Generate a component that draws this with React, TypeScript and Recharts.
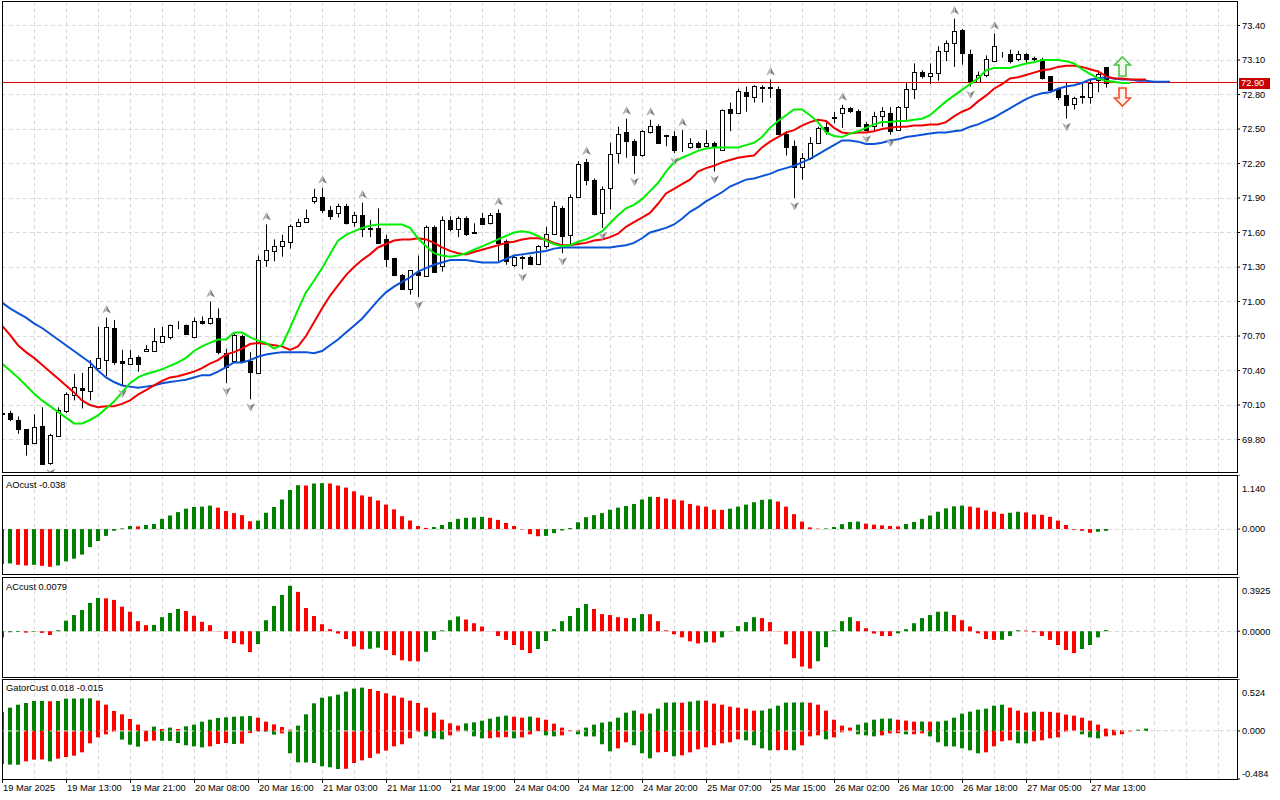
import React from "react";
import {
  ComposedChart,
  Bar,
  Line,
  Scatter,
  XAxis,
  YAxis,
  CartesianGrid,
  ReferenceLine,
  Cell,
} from "recharts";

const FONT = "'Liberation Sans', Arial, sans-serif";
const FS = 9.3;
const GREEN = "#008000";
const RED = "#ff0000";
const GRID = "#d9d9d9";

// hourly bars, one label every 8 bars
const timeLabels = [
  "19 Mar 2025", "19 Mar 13:00", "19 Mar 21:00", "20 Mar 08:00", "20 Mar 16:00",
  "21 Mar 03:00", "21 Mar 11:00", "21 Mar 19:00", "24 Mar 04:00", "24 Mar 12:00",
  "24 Mar 20:00", "25 Mar 07:00", "25 Mar 15:00", "26 Mar 02:00", "26 Mar 10:00",
  "26 Mar 18:00", "27 Mar 05:00", "27 Mar 13:00",
];

const priceTicks = [69.8, 70.1, 70.4, 70.7, 71.0, 71.3, 71.6, 71.9, 72.2, 72.5, 72.8, 73.1, 73.4];
const lastPrice = 72.904;

const opens = [
  70.03, 70.03, 69.97, 69.89, 69.77, 69.92, 69.60, 69.83, 70.05, 70.19,
  70.25, 70.22, 70.42, 70.49, 70.77, 70.48, 70.46, 70.52, 70.57, 70.57,
  70.65, 70.69, 70.797, 70.80, 70.69, 70.83, 70.81, 70.86, 70.55, 70.48,
  70.70, 70.48, 70.38, 71.36, 71.44, 71.48, 71.52, 71.66, 71.69, 71.87,
  71.91, 71.80, 71.77, 71.83, 71.69, 71.75, 71.642, 71.64, 71.54, 71.38,
  71.23, 71.11, 71.26, 71.22, 71.65, 71.31, 71.71, 71.63, 71.73, 71.607,
  71.73, 71.68, 71.77, 71.53, 71.32, 71.39, 71.39, 71.33, 71.48, 71.59,
  71.81, 71.58, 71.91, 72.21, 72.06, 71.77, 71.99, 72.29, 72.47, 72.40,
  72.27, 72.47, 72.53, 72.445, 72.44, 72.33, 72.34, 72.38, 72.35, 72.38,
  72.32, 72.67, 72.64, 72.82, 72.78, 72.868, 72.865, 72.85, 72.46, 72.35,
  72.17, 72.25, 72.38, 72.52, 72.596, 72.64, 72.68, 72.66, 72.54, 72.53,
  72.61, 72.64, 72.49, 72.69, 72.85, 73.00, 72.96, 72.99, 73.18, 73.25,
  73.36, 73.15, 72.91, 72.97, 73.09, 73.147, 73.15, 73.11, 73.15, 73.119,
  73.11, 72.96, 72.85, 72.80, 72.72, 72.784, 72.78, 72.93, 73.04,
];
const highs = [
  70.04, 70.05, 70.00, 69.89, 70.02, 70.08, 69.85, 70.08, 70.21, 70.37,
  70.38, 70.49, 70.78, 70.86, 70.84, 70.58, 70.58, 70.53, 70.62, 70.77,
  70.78, 70.80, 70.83, 70.80, 70.86, 70.87, 71.00, 70.94, 70.59, 70.72,
  70.71, 70.56, 71.40, 71.67, 71.54, 71.58, 71.67, 71.72, 71.80, 71.98,
  71.99, 71.83, 71.85, 71.85, 71.78, 71.86, 71.71, 71.81, 71.58, 71.38,
  71.24, 71.27, 71.40, 71.66, 71.66, 71.74, 71.74, 71.74, 71.74, 71.68,
  71.77, 71.77, 71.80, 71.54, 71.40, 71.40, 71.40, 71.49, 71.65, 71.87,
  71.83, 71.93, 72.22, 72.24, 72.07, 72.00, 72.38, 72.52, 72.59, 72.41,
  72.49, 72.58, 72.54, 72.45, 72.48, 72.49, 72.42, 72.39, 72.49, 72.39,
  72.67, 72.73, 72.85, 72.87, 72.88, 72.88, 72.93, 72.87, 72.48, 72.40,
  72.29, 72.43, 72.52, 72.56, 72.65, 72.71, 72.69, 72.67, 72.56, 72.65,
  72.69, 72.69, 72.70, 72.90, 73.07, 73.01, 73.07, 73.22, 73.27, 73.46,
  73.37, 73.19, 73.00, 73.14, 73.33, 73.17, 73.19, 73.18, 73.16, 73.13,
  73.12, 72.96, 72.85, 72.90, 72.78, 72.90, 72.93, 73.01, 73.04,
];
const lows = [
  70.01, 69.96, 69.85, 69.66, 69.76, 69.59, 69.58, 69.83, 70.03, 70.14,
  70.07, 70.14, 70.41, 70.35, 70.45, 70.27, 70.45, 70.39, 70.56, 70.56,
  70.64, 70.67, 70.76, 70.71, 70.68, 70.80, 70.80, 70.54, 70.29, 70.48,
  70.47, 70.15, 70.38, 71.30, 71.35, 71.39, 71.46, 71.65, 71.69, 71.85,
  71.77, 71.71, 71.73, 71.67, 71.65, 71.56, 71.56, 71.51, 71.30, 71.22,
  71.10, 71.06, 71.04, 71.22, 71.25, 71.26, 71.61, 71.56, 71.57, 71.59,
  71.67, 71.67, 71.35, 71.32, 71.30, 71.28, 71.33, 71.33, 71.46, 71.58,
  71.42, 71.48, 71.90, 72.01, 71.75, 71.64, 71.80, 72.20, 72.25, 72.11,
  72.26, 72.46, 72.38, 72.35, 72.29, 72.30, 72.33, 72.33, 72.34, 72.13,
  72.32, 72.48, 72.64, 72.65, 72.73, 72.73, 72.77, 72.45, 72.27, 71.90,
  72.06, 72.23, 72.38, 72.45, 72.55, 72.51, 72.64, 72.52, 72.48, 72.49,
  72.52, 72.45, 72.49, 72.58, 72.76, 72.94, 72.89, 72.92, 73.09, 73.04,
  73.06, 72.87, 72.90, 72.95, 73.08, 73.12, 73.07, 73.09, 73.07, 73.09,
  72.93, 72.83, 72.75, 72.59, 72.67, 72.72, 72.72, 72.82, 72.86,
];
const closes = [
  70.02, 69.98, 69.89, 69.76, 69.91, 69.59, 69.84, 70.06, 70.20, 70.26,
  70.23, 70.43, 70.51, 70.78, 70.47, 70.468, 70.51, 70.46, 70.59, 70.66,
  70.70, 70.80, 70.80, 70.72, 70.83, 70.81, 70.86, 70.56, 70.43, 70.71,
  70.48, 70.39, 71.36, 71.45, 71.48, 71.53, 71.66, 71.69, 71.73, 71.91,
  71.80, 71.74, 71.83, 71.68, 71.75, 71.63, 71.63, 71.51, 71.37, 71.23,
  71.11, 71.27, 71.23, 71.65, 71.26, 71.71, 71.63, 71.73, 71.59, 71.598,
  71.67, 71.75, 71.51, 71.35, 71.39, 71.378, 71.33, 71.48, 71.59, 71.83,
  71.57, 71.91, 72.20, 72.06, 71.76, 71.98, 72.28, 72.46, 72.40, 72.27,
  72.48, 72.53, 72.38, 72.436, 72.32, 72.325, 72.38, 72.34, 72.38, 72.34,
  72.665, 72.64, 72.83, 72.79, 72.87, 72.857, 72.857, 72.46, 72.34, 72.17,
  72.25, 72.38, 72.51, 72.48, 72.602, 72.68, 72.66, 72.53, 72.49, 72.61,
  72.66, 72.48, 72.69, 72.85, 73.00, 72.96, 72.99, 73.18, 73.25, 73.35,
  73.16, 72.91, 72.97, 73.11, 73.22, 73.141, 73.09, 73.15, 73.11, 73.109,
  72.94, 72.84, 72.78, 72.71, 72.77, 72.778, 72.90, 72.98, 72.90,
];

// Alligator lines (already shifted forward 8 / 5 / 3 bars)
const jaw = [
  70.99, 70.94, 70.90, 70.86, 70.81, 70.77, 70.72, 70.67, 70.62, 70.57,
  70.52, 70.47, 70.40, 70.34, 70.30, 70.27, 70.26, 70.25, 70.26, 70.27,
  70.29, 70.30, 70.31, 70.32, 70.34, 70.36, 70.36, 70.39, 70.43, 70.47,
  70.47, 70.49, 70.52, 70.54, 70.55, 70.56, 70.56, 70.56, 70.56, 70.55,
  70.57, 70.62, 70.67, 70.73, 70.79, 70.85, 70.93, 71.01, 71.08, 71.13,
  71.17, 71.21, 71.26, 71.29, 71.32, 71.34, 71.36, 71.36, 71.36, 71.35,
  71.34, 71.34, 71.34, 71.37, 71.40, 71.41, 71.42, 71.43, 71.44, 71.46,
  71.47, 71.47, 71.47, 71.47, 71.47, 71.47, 71.47, 71.48, 71.49, 71.51,
  71.55, 71.60, 71.62, 71.64, 71.67, 71.72, 71.78, 71.82, 71.87, 71.91,
  71.95, 72.00, 72.03, 72.06, 72.07, 72.09, 72.11, 72.14, 72.16, 72.18,
  72.21, 72.24, 72.28, 72.32, 72.36, 72.40, 72.40, 72.39, 72.37, 72.37,
  72.38, 72.40, 72.41, 72.43, 72.44, 72.45, 72.46, 72.47, 72.47, 72.48,
  72.49, 72.52, 72.54, 72.57, 72.60, 72.64, 72.68, 72.72, 72.76, 72.79,
  72.81, 72.82, 72.85, 72.87, 72.88, 72.90, 72.93, 72.94, 72.95, 72.94,
  72.93, 72.93, 72.92, 72.92, 72.91, 72.91, 72.91,
];
const teeth = [
  70.79, 70.71, 70.62, 70.56, 70.51, 70.45, 70.39, 70.33, 70.27, 70.21,
  70.14, 70.10, 70.08, 70.09, 70.09, 70.11, 70.14, 70.19, 70.23, 70.27,
  70.31, 70.34, 70.35, 70.37, 70.39, 70.42, 70.46, 70.49, 70.54, 70.56,
  70.59, 70.63, 70.64, 70.63, 70.62, 70.61, 70.58, 70.61, 70.70, 70.82,
  70.94, 71.05, 71.14, 71.23, 71.30, 71.36, 71.41, 71.47, 71.50, 71.53,
  71.54, 71.54, 71.55, 71.54, 71.51, 71.47, 71.44, 71.42, 71.41, 71.43,
  71.45, 71.47, 71.49, 71.51, 71.52, 71.54, 71.55, 71.55, 71.54, 71.51,
  71.49, 71.49, 71.50, 71.51, 71.53, 71.54, 71.56, 71.59, 71.65, 71.69,
  71.73, 71.77, 71.85, 71.94, 71.98, 72.02, 72.06, 72.13, 72.16, 72.18,
  72.21, 72.23, 72.25, 72.26, 72.27, 72.34, 72.39, 72.43, 72.47, 72.49,
  72.53, 72.56, 72.58, 72.57, 72.51, 72.47, 72.46, 72.47, 72.47, 72.48,
  72.50, 72.51, 72.52, 72.52, 72.53, 72.53, 72.54, 72.54, 72.56, 72.61,
  72.65, 72.68, 72.74, 72.79, 72.85, 72.89, 72.94, 72.95, 72.97, 72.99,
  73.01, 73.02, 73.04, 73.05, 73.05, 73.04, 73.02, 73.00, 72.96, 72.94,
  72.94, 72.93, 72.93, 72.93,
];
const lips = [
  70.46, 70.40, 70.34, 70.27, 70.20, 70.14, 70.09, 70.04, 69.99, 69.94,
  69.94, 69.97, 70.01, 70.07, 70.13, 70.21, 70.29, 70.34, 70.37, 70.39,
  70.41, 70.44, 70.47, 70.51, 70.57, 70.61, 70.64, 70.67, 70.67, 70.73,
  70.73, 70.69, 70.66, 70.64, 70.59, 70.62, 70.77, 70.93, 71.08, 71.18,
  71.29, 71.41, 71.53, 71.58, 71.61, 71.64, 71.66, 71.67, 71.67, 71.67,
  71.67, 71.64, 71.55, 71.48, 71.42, 71.40, 71.39, 71.40, 71.42, 71.45,
  71.48, 71.51, 71.54, 71.57, 71.60, 71.61, 71.60, 71.57, 71.53, 71.50,
  71.48, 71.49, 71.52, 71.54, 71.57, 71.61, 71.68, 71.75, 71.81, 71.84,
  71.89, 71.96, 72.03, 72.13, 72.21, 72.25, 72.28, 72.31, 72.33, 72.34,
  72.34, 72.34, 72.34, 72.36, 72.38, 72.43, 72.51, 72.57, 72.62, 72.67,
  72.67, 72.62, 72.56, 72.47, 72.44, 72.43, 72.46, 72.48, 72.51, 72.54,
  72.56, 72.56, 72.57, 72.57, 72.58, 72.59, 72.62, 72.68, 72.74, 72.79,
  72.84, 72.89, 72.94, 73.01, 73.03, 73.03, 73.03, 73.05, 73.07, 73.08,
  73.10, 73.10, 73.10, 73.09, 73.07, 73.02, 72.98, 72.94, 72.92, 72.91,
  72.90, 72.90,
];

const fractalUp = [13, 26, 33, 40, 45, 62, 73, 78, 81, 85, 96, 105, 119, 124];
const fractalDown = [6, 15, 28, 31, 52, 65, 70, 75, 79, 84, 89, 99, 108, 111, 121, 133];
const signalUp = [{ i: 140, v: 73.05 }];
const signalDown = [{ i: 140, v: 72.79 }];

const ao = [
  -0.738, -0.724, -0.753, -0.767, -0.753, -0.774, -0.796, -0.767, -0.681, -0.624,
  -0.538, -0.380, -0.251, -0.143, -0.036, 0.014, 0.065, 0.057, 0.086, 0.108,
  0.215, 0.287, 0.358, 0.430, 0.466, 0.473, 0.495, 0.452, 0.380, 0.337,
  0.294, 0.165, 0.179, 0.344, 0.466, 0.624, 0.824, 0.925, 0.918, 0.961,
  0.968, 0.961, 0.918, 0.875, 0.796, 0.710, 0.681, 0.602, 0.516, 0.416,
  0.272, 0.179, 0.065, 0.025, 0.043, 0.086, 0.151, 0.215, 0.237, 0.244,
  0.258, 0.237, 0.194, 0.129, 0.065, -0.007, -0.108, -0.151, -0.143, -0.086,
  -0.029, 0.022, 0.143, 0.251, 0.294, 0.337, 0.409, 0.452, 0.487, 0.530,
  0.624, 0.681, 0.677, 0.645, 0.624, 0.602, 0.530, 0.495, 0.473, 0.409,
  0.405, 0.430, 0.473, 0.516, 0.566, 0.616, 0.626, 0.581, 0.473, 0.315,
  0.158, 0.036, 0.010, 0.014, 0.043, 0.104, 0.151, 0.158, 0.115, 0.093,
  0.079, 0.065, 0.057, 0.108, 0.151, 0.215, 0.287, 0.366, 0.437, 0.480,
  0.495, 0.473, 0.452, 0.394, 0.366, 0.323, 0.344, 0.366, 0.351, 0.308,
  0.301, 0.258, 0.179, 0.086, -0.014, -0.036, -0.079, -0.057, -0.038,
];
const ac = [
  -0.046, -0.007, -0.005, -0.010, -0.004, -0.012, -0.027, 0.007, 0.076, 0.117,
  0.154, 0.205, 0.241, 0.238, 0.227, 0.178, 0.141, 0.073, 0.044, 0.046,
  0.102, 0.132, 0.161, 0.146, 0.112, 0.068, 0.044, -0.002, -0.056, -0.085,
  -0.095, -0.151, -0.093, 0.080, 0.183, 0.263, 0.329, 0.285, 0.168, 0.110,
  0.051, 0.015, -0.017, -0.056, -0.110, -0.131, -0.127, -0.119, -0.136, -0.173,
  -0.210, -0.217, -0.218, -0.149, -0.063, 0.007, 0.080, 0.107, 0.085, 0.058,
  0.034, -0.001, -0.034, -0.063, -0.100, -0.136, -0.158, -0.129, -0.071, 0.015,
  0.073, 0.110, 0.168, 0.197, 0.161, 0.124, 0.117, 0.102, 0.095, 0.096,
  0.124, 0.123, 0.073, 0.007, -0.022, -0.044, -0.073, -0.088, -0.080, -0.081,
  -0.044, 0.002, 0.037, 0.066, 0.102, 0.095, 0.066, -0.002, -0.095, -0.195,
  -0.256, -0.270, -0.217, -0.115, 0.007, 0.073, 0.102, 0.073, 0.022, -0.017,
  -0.034, -0.035, -0.015, 0.015, 0.058, 0.095, 0.117, 0.141, 0.142, 0.117,
  0.080, 0.034, -0.015, -0.056, -0.063, -0.062, -0.034, 0.007, 0.005, -0.007,
  -0.034, -0.063, -0.100, -0.136, -0.158, -0.129, -0.100, -0.044, 0.0079,
];
const gatorUp = [
  0.192, 0.235, 0.265, 0.282, 0.302, 0.303, 0.300, 0.302, 0.326, 0.327,
  0.328, 0.329, 0.306, 0.265, 0.202, 0.168, 0.121, 0.064, 0.003, 0.044,
  0.020, 0.034, 0.020, 0.047, 0.064, 0.094, 0.114, 0.131, 0.138, 0.144,
  0.148, 0.150, 0.134, 0.094, 0.067, 0.040, 0.013, 0.054, 0.168, 0.279,
  0.336, 0.349, 0.366, 0.397, 0.427, 0.437, 0.423, 0.403, 0.380, 0.356,
  0.336, 0.306, 0.282, 0.235, 0.185, 0.114, 0.077, 0.054, 0.077, 0.087,
  0.104, 0.124, 0.144, 0.155, 0.144, 0.134, 0.145, 0.134, 0.114, 0.074,
  0.034, 0.010, 0.009, 0.034, 0.064, 0.084, 0.094, 0.134, 0.185, 0.205,
  0.175, 0.176, 0.225, 0.286, 0.287, 0.285, 0.296, 0.306, 0.305, 0.276,
  0.265, 0.245, 0.235, 0.225, 0.205, 0.206, 0.225, 0.255, 0.286, 0.287,
  0.288, 0.285, 0.265, 0.205, 0.114, 0.054, 0.034, 0.064, 0.084, 0.114,
  0.124, 0.125, 0.114, 0.104, 0.094, 0.095, 0.094, 0.095, 0.104, 0.134,
  0.175, 0.195, 0.215, 0.225, 0.255, 0.265, 0.235, 0.205, 0.185, 0.195,
  0.194, 0.193, 0.185, 0.165, 0.155, 0.134, 0.104, 0.064, 0.024, 0.012,
  0.008, 0.005, 0.013, 0.024,
];
const gatorDown = [
  -0.333, -0.339, -0.340, -0.306, -0.289, -0.287, -0.306, -0.279, -0.262, -0.249,
  -0.215, -0.124, -0.064, -0.034, -0.007, -0.087, -0.138, -0.158, -0.104, -0.097,
  -0.099, -0.100, -0.121, -0.144, -0.155, -0.165, -0.155, -0.131, -0.121, -0.131,
  -0.128, -0.020, -0.005, -0.007, -0.037, -0.024, -0.225, -0.316, -0.317, -0.323,
  -0.356, -0.366, -0.383, -0.381, -0.323, -0.296, -0.272, -0.228, -0.198, -0.155,
  -0.134, -0.074, -0.007, -0.054, -0.074, -0.084, -0.044, -0.007, -0.003, -0.054,
  -0.074, -0.073, -0.064, -0.063, -0.074, -0.064, -0.034, -0.002, -0.044, -0.054,
  -0.044, -0.003, -0.034, -0.054, -0.055, -0.134, -0.205, -0.175, -0.114, -0.144,
  -0.225, -0.276, -0.215, -0.212, -0.255, -0.245, -0.215, -0.185, -0.165, -0.144,
  -0.124, -0.114, -0.084, -0.094, -0.144, -0.175, -0.195, -0.194, -0.192, -0.195,
  -0.144, -0.054, -0.044, -0.084, -0.064, -0.013, -0.003, -0.034, -0.044, -0.054,
  -0.044, -0.024, -0.023, -0.034, -0.033, -0.024, -0.054, -0.114, -0.155, -0.156,
  -0.175, -0.195, -0.225, -0.215, -0.155, -0.104, -0.094, -0.124, -0.125, -0.104,
  -0.094, -0.074, -0.064, -0.007, -0.001, -0.034, -0.064, -0.074, -0.054, -0.044,
  -0.033, -0.007,
];

// ---- layout ----
const W = 1280;
const AXIS_W = 43;
const MARGIN = { top: 0, right: 0, bottom: 0, left: 2 };
const X_DOMAIN = [0, 154.375]; // 8 px per bar
const gridTicks = Array.from({ length: 39 }, (_, k) => k * 4);
const AO_DOMAIN = [-0.968, 1.14];
const AC_DOMAIN = [-0.3384, 0.3925];
const GATOR_DOMAIN = [-0.484, 0.524];

const mainData = jaw.map((_, i) => ({
  i,
  o: opens[i],
  h: highs[i],
  l: lows[i],
  c: closes[i],
  jaw: jaw[i],
  teeth: teeth[i],
  lips: lips[i],
}));
const upPoints = fractalUp.map((i) => ({ i, v: highs[i] }));
const downPoints = fractalDown.map((i) => ({ i, v: lows[i] }));

const aoData = ao.map((v, i) => ({ i, v, rising: i > 0 && v > ao[i - 1] }));
const acData = ac.map((v, i) => ({ i, v, rising: i === 0 || v > ac[i - 1] }));
const gatorData = gatorUp.map((u, i) => ({
  i,
  up: u,
  dn: gatorDown[i],
  upGrow: i === 0 || u > gatorUp[i - 1],
  dnGrow: i === 0 || Math.abs(gatorDown[i] ?? 0) > Math.abs(gatorDown[i - 1] ?? 0),
}));

function Candle(props: any) {
  const { x, y, width, height, payload } = props;
  if (payload == null || payload.h == null) return null;
  const cx = Math.round(x + width / 2);
  const top = Math.min(y, y + height);
  const span = Math.abs(height);
  const k = payload.h === payload.l ? 0 : span / (payload.h - payload.l);
  const yOf = (v: number) => top + (payload.h - v) * k;
  const yo = yOf(payload.o);
  const yc = yOf(payload.c);
  const bull = payload.c >= payload.o;
  const bt = Math.round(Math.min(yo, yc));
  const bb = Math.round(Math.max(yo, yc));
  return (
    <g>
      <line x1={cx + 0.5} x2={cx + 0.5} y1={top} y2={top + span} stroke="#000" strokeWidth={1} />
      <rect
        x={cx - 1.5}
        y={bt + 0.5}
        width={4}
        height={Math.max(bb - bt, 0)}
        fill={bull ? "#fff" : "#000"}
        stroke="#000"
        strokeWidth={1}
      />
    </g>
  );
}

function FractalUp(props: any) {
  const { cx, cy } = props;
  if (cx == null) return null;
  return (
    <g transform={`translate(${Math.round(cx) + 0.5},${cy - 8})`}>
      <path d="M0,-4.5 L4.5,4 L0,1.5 Z" fill="#7d7d7d" />
      <path d="M0,-4.5 L-4.5,4 L0,1.5 Z" fill="#b4b4b4" />
    </g>
  );
}

function FractalDown(props: any) {
  const { cx, cy } = props;
  if (cx == null) return null;
  return (
    <g transform={`translate(${Math.round(cx) + 0.5},${cy + 8})`}>
      <path d="M0,4.5 L4.5,-4 L0,-1.5 Z" fill="#7d7d7d" />
      <path d="M0,4.5 L-4.5,-4 L0,-1.5 Z" fill="#b4b4b4" />
    </g>
  );
}

function SignalUp(props: any) {
  const { cx, cy } = props;
  if (cx == null) return null;
  return (
    <g transform={`translate(${Math.round(cx) + 0.5},${Math.round(cy)})`}>
      <path
        d="M0,-9 L8,-1 L3.5,-1 L3.5,10 L-3.5,10 L-3.5,-1 L-8,-1 Z"
        fill="#effbe8"
        stroke="#4fc24a"
        strokeWidth={1.6}
        strokeLinejoin="miter"
      />
    </g>
  );
}

function SignalDown(props: any) {
  const { cx, cy } = props;
  if (cx == null) return null;
  return (
    <g transform={`translate(${Math.round(cx) + 0.5},${Math.round(cy)})`}>
      <path
        d="M0,10 L8,2 L3.5,2 L3.5,-8 L-3.5,-8 L-3.5,2 L-8,2 Z"
        fill="#fff1ea"
        stroke="#f0502c"
        strokeWidth={1.6}
        strokeLinejoin="miter"
      />
    </g>
  );
}

function PriceTag(props: any) {
  const vb = props.viewBox || {};
  const right = (vb.x ?? 0) + (vb.width ?? 0);
  const y = vb.y ?? 0;
  return (
    <g>
      <rect x={right + 2} y={Math.round(y) - 5} width={31} height={11} fill="#c80000" />
      <text x={right + 4} y={y + 3.5} fill="#fff" fontSize={FS} fontFamily={FONT}>
        {lastPrice.toFixed(2)}
      </text>
    </g>
  );
}

function edgeTick(domain: number[], digits: number) {
  return function EdgeTick(props: any) {
    const { x, y, payload } = props;
    const v = payload.value;
    const shift = v === domain[1] ? 5 : v === domain[0] ? -5.5 : 0;
    return (
      <text x={x} y={y + shift} dy="0.355em" textAnchor="start" fontSize={FS} fontFamily={FONT} fill="#000">
        {v.toFixed(digits)}
      </text>
    );
  };
}

function TimeTick(props: any) {
  const { x, y, payload } = props;
  const v = payload.value;
  if (v % 8 !== 0) return null;
  const label = timeLabels[v / 8];
  if (!label) return null;
  const px = Math.round(x);
  return (
    <g>
      <line x1={px + 0.5} x2={px + 0.5} y1={y} y2={y + 4} stroke="#000" />
      <text x={px + 1} y={y + 12} textAnchor="start" fontSize={FS} fontFamily={FONT} fill="#000">
        {label}
      </text>
    </g>
  );
}

const hiddenX = (
  <XAxis type="number" dataKey="i" domain={X_DOMAIN} ticks={gridTicks} allowDataOverflow hide />
);

function Frame({ top, height }: { top: number; height: number }) {
  return (
    <div
      style={{
        position: "absolute",
        left: 2,
        top,
        width: 1236,
        height,
        border: "1px solid #000",
        boxSizing: "border-box",
        pointerEvents: "none",
      }}
    />
  );
}

function Title({ top, text }: { top: number; text: string }) {
  return (
    <div
      style={{
        position: "absolute",
        left: 6,
        top,
        fontSize: FS,
        lineHeight: "10px",
        fontFamily: FONT,
        color: "#000",
        whiteSpace: "nowrap",
      }}
    >
      {text}
    </div>
  );
}

export default function App() {
  return (
    <div
      style={{
        position: "absolute",
        left: 0,
        top: 0,
        width: W,
        height: 800,
        background: "#fff",
        fontFamily: FONT,
        overflow: "hidden",
      }}
    >
      {/* price pane */}
      <div style={{ position: "absolute", left: 0, top: 1 }}>
        <ComposedChart width={W} height={472} data={mainData} margin={MARGIN}>
          <CartesianGrid stroke={GRID} strokeDasharray="4 3" shapeRendering="crispEdges" />
          <XAxis type="number" dataKey="i" domain={X_DOMAIN} ticks={gridTicks} allowDataOverflow hide />
          <YAxis
            orientation="right"
            width={AXIS_W}
            domain={[69.509, 73.613]}
            ticks={priceTicks}
            allowDataOverflow
            axisLine={false}
            tickLine={{ stroke: "#000" }}
            tickSize={3}
            tickMargin={2}
            tick={{ fill: "#000", fontSize: FS, fontFamily: FONT, textAnchor: "start" }}
            tickFormatter={(v: number) => v.toFixed(2)}
          />
          <ReferenceLine y={lastPrice} stroke="#e00000" strokeWidth={1} label={<PriceTag />} />
          <Bar
            dataKey={(d: any) => (d.h == null ? null : [d.l, d.h])}
            barSize={5}
            shape={<Candle />}
            isAnimationActive={false}
          />
          <Line type="linear" dataKey="jaw" stroke="#0a52d6" strokeWidth={2} dot={false} isAnimationActive={false} />
          <Line type="linear" dataKey="teeth" stroke="#f00000" strokeWidth={2} dot={false} isAnimationActive={false} />
          <Line type="linear" dataKey="lips" stroke="#00ee00" strokeWidth={2} dot={false} isAnimationActive={false} />
          <Scatter data={upPoints} dataKey="v" shape={<FractalUp />} isAnimationActive={false} />
          <Scatter data={downPoints} dataKey="v" shape={<FractalDown />} isAnimationActive={false} />
          <Scatter data={signalUp} dataKey="v" shape={<SignalUp />} isAnimationActive={false} />
          <Scatter data={signalDown} dataKey="v" shape={<SignalDown />} isAnimationActive={false} />
        </ComposedChart>
      </div>

      {/* AO pane */}
      <div style={{ position: "absolute", left: 0, top: 475 }}>
        <ComposedChart width={W} height={100} data={aoData} margin={MARGIN}>
          <CartesianGrid stroke={GRID} strokeDasharray="4 3" shapeRendering="crispEdges" />
          {hiddenX}
          <YAxis
            orientation="right"
            width={AXIS_W}
            domain={AO_DOMAIN}
            ticks={[AO_DOMAIN[0], 0, AO_DOMAIN[1]]}
            allowDataOverflow
            axisLine={false}
            tickLine={{ stroke: "#000" }}
            tickSize={3}
            tickMargin={2}
            tick={edgeTick(AO_DOMAIN, 3)}
          />
          <Bar dataKey="v" barSize={4} isAnimationActive={false}>
            {aoData.map((d) => (
              <Cell key={d.i} fill={d.rising ? GREEN : RED} />
            ))}
          </Bar>
        </ComposedChart>
      </div>

      {/* AC pane */}
      <div style={{ position: "absolute", left: 0, top: 577 }}>
        <ComposedChart width={W} height={101} data={acData} margin={MARGIN}>
          <CartesianGrid stroke={GRID} strokeDasharray="4 3" shapeRendering="crispEdges" />
          {hiddenX}
          <YAxis
            orientation="right"
            width={AXIS_W}
            domain={AC_DOMAIN}
            ticks={[AC_DOMAIN[0], 0, AC_DOMAIN[1]]}
            allowDataOverflow
            axisLine={false}
            tickLine={{ stroke: "#000" }}
            tickSize={3}
            tickMargin={2}
            tick={edgeTick(AC_DOMAIN, 4)}
          />
          <Bar dataKey="v" barSize={4} isAnimationActive={false}>
            {acData.map((d) => (
              <Cell key={d.i} fill={d.rising ? GREEN : RED} />
            ))}
          </Bar>
        </ComposedChart>
      </div>

      {/* Gator pane + time axis */}
      <div style={{ position: "absolute", left: 0, top: 679 }}>
        <ComposedChart width={W} height={121} data={gatorData} margin={MARGIN} stackOffset="sign">
          <CartesianGrid stroke={GRID} strokeDasharray="4 3" shapeRendering="crispEdges" />
          <XAxis
            type="number"
            dataKey="i"
            domain={X_DOMAIN}
            ticks={gridTicks}
            allowDataOverflow
            height={21}
            axisLine={false}
            tickLine={false}
            tickSize={0}
            tickMargin={0}
            tick={<TimeTick />}
            interval={0}
          />
          <YAxis
            orientation="right"
            width={AXIS_W}
            domain={GATOR_DOMAIN}
            ticks={[GATOR_DOMAIN[0], 0, GATOR_DOMAIN[1]]}
            allowDataOverflow
            axisLine={false}
            tickLine={{ stroke: "#000" }}
            tickSize={3}
            tickMargin={2}
            tick={edgeTick(GATOR_DOMAIN, 3)}
          />
          <Bar dataKey="up" stackId="g" barSize={4} isAnimationActive={false}>
            {gatorData.map((d) => (
              <Cell key={d.i} fill={d.upGrow ? GREEN : RED} />
            ))}
          </Bar>
          <Bar dataKey="dn" stackId="g" barSize={4} isAnimationActive={false}>
            {gatorData.map((d) => (
              <Cell key={d.i} fill={d.dnGrow ? GREEN : RED} />
            ))}
          </Bar>
          <ReferenceLine y={0} stroke="#e8e8e8" strokeDasharray="4 3" />
        </ComposedChart>
      </div>

      <Frame top={1} height={472} />
      <Frame top={475} height={100} />
      <Frame top={577} height={101} />
      <Frame top={679} height={101} />

      <Title top={480} text={`AOcust ${ao[ao.length - 1].toFixed(3)}`} />
      <Title top={582} text={`ACcust ${ac[ac.length - 1].toFixed(4)}`} />
      <Title top={683} text="GatorCust 0.018 -0.015" />
    </div>
  );
}
